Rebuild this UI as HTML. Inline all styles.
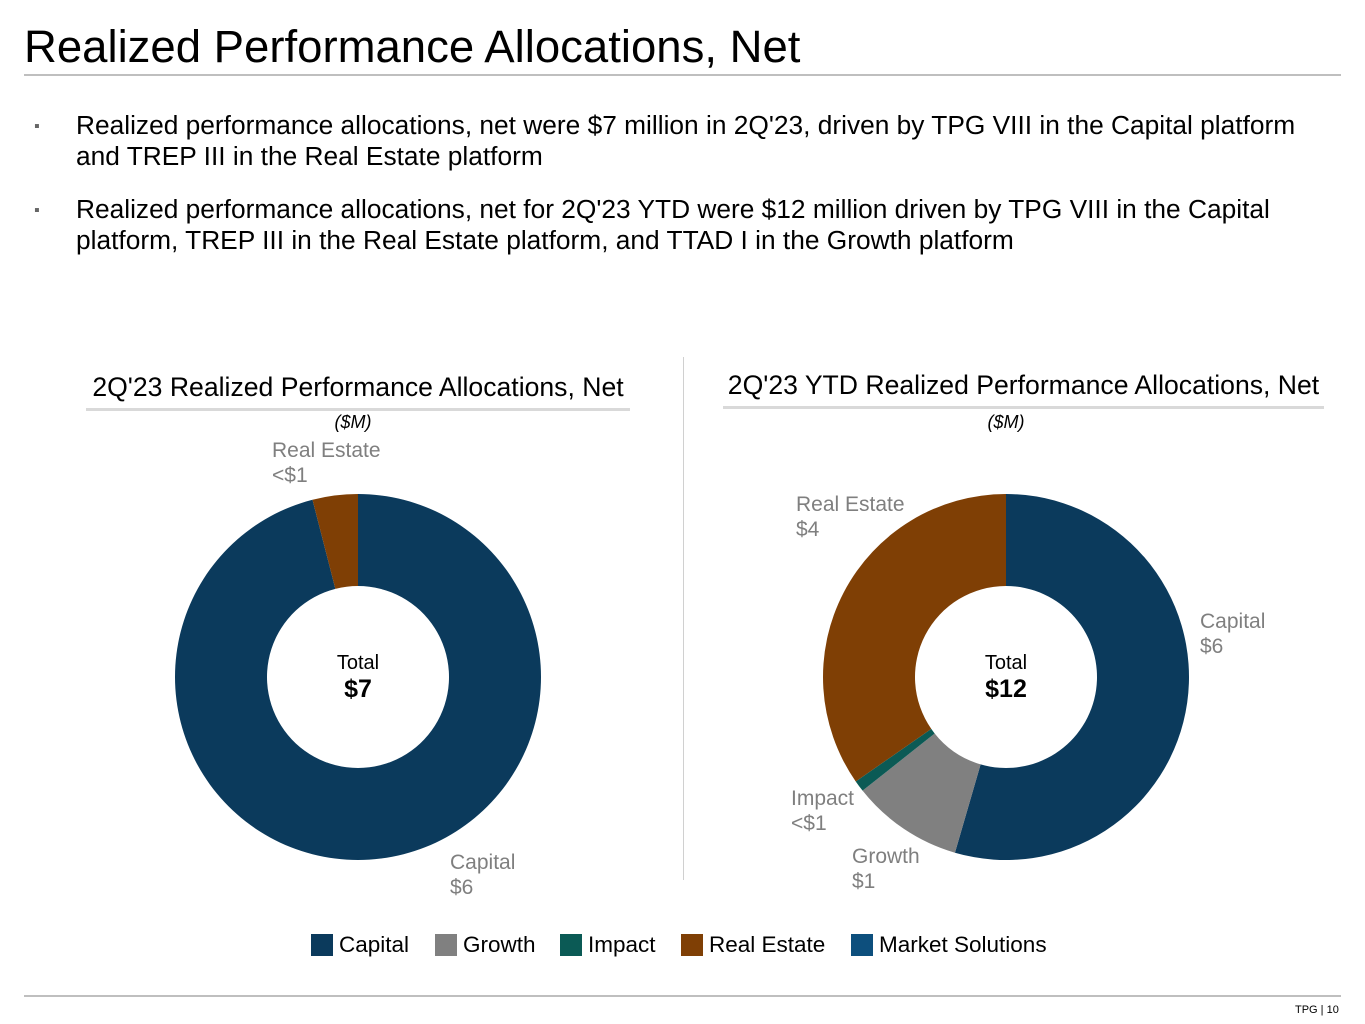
<!DOCTYPE html>
<html><head><meta charset="utf-8">
<style>
body{margin:0;width:1365px;height:1024px;background:#fff;font-family:"Liberation Sans",Arial,sans-serif;position:relative;overflow:hidden;color:#000}
.abs{position:absolute}
</style></head><body>
<div class="abs" style="left:24px;top:21px;font-size:45.5px;line-height:52px">Realized Performance Allocations, Net</div>
<div class="abs" style="left:24px;top:74px;width:1317px;height:2px;background:#bfbfbf"></div>
<div class="abs" style="left:34px;top:110px;width:1292px;font-size:26.3px;line-height:31px"><span style="position:absolute;left:0;top:1px;font-size:16px;color:#666">▪</span><div style="margin-left:42px">Realized performance allocations, net were $7 million in 2Q'23, driven by TPG VIII in the Capital platform and TREP III in the Real Estate platform</div></div>
<div class="abs" style="left:34px;top:194px;width:1292px;font-size:26.3px;line-height:31px"><span style="position:absolute;left:0;top:1px;font-size:16px;color:#666">▪</span><div style="margin-left:42px">Realized performance allocations, net for 2Q'23 YTD were $12 million driven by TPG VIII in the Capital platform, TREP III in the Real Estate platform, and TTAD I in the Growth platform</div></div>
<div class="abs" style="left:683px;top:357px;width:1px;height:523px;background:#d0d0d0"></div>
<div class="abs" style="left:24px;top:995px;width:1317px;height:2px;background:#bfbfbf"></div>
<div class="abs" style="left:1295px;top:1004px;font-size:11px">TPG | 10</div>
<svg class="abs" style="left:0;top:0" width="1365" height="1024" id="chart"></svg>
<script>
const categories=["Capital","Growth","Impact","Real Estate","Market Solutions"];
const colors=["#0b3a5c","#808080","#0b5a55","#7f3f05","#0d4f7d"];
const qValues=[6.72,0,0,0.28,0];
const ytdValues=[6.54,1.18,0.12,4.16,0];
const qTotal="$7", ytdTotal="$12";
const NS="http://www.w3.org/2000/svg";
const svg=document.getElementById('chart');
function el(t,a,txt){const e=document.createElementNS(NS,t);for(const k in a)e.setAttribute(k,a[k]);if(txt!==undefined)e.textContent=txt;svg.appendChild(e);return e;}
function pt(cx,cy,r,f){const a=f*2*Math.PI;return [cx+r*Math.sin(a),cy-r*Math.cos(a)];}
function donut(cx,cy,R,r,vals,total,prefix){
 const sum=vals.reduce((a,b)=>a+b,0);let acc=0;
 vals.forEach((v,i)=>{if(v<=0)return;const f0=acc/sum,f1=(acc+v)/sum;acc+=v;
  const [x0,y0]=pt(cx,cy,R,f0),[x1,y1]=pt(cx,cy,R,f1),[x2,y2]=pt(cx,cy,r,f1),[x3,y3]=pt(cx,cy,r,f0);
  const lg=(f1-f0)>0.5?1:0;
  const p=el('path',{d:`M${x0},${y0}A${R},${R} 0 ${lg} 1 ${x1},${y1}L${x2},${y2}A${r},${r} 0 ${lg} 0 ${x3},${y3}Z`,fill:colors[i]});
  
  
 });
 const t1=el('text',{x:cx,y:cy-8,'text-anchor':'middle','font-size':20},'Total');
 
 const t2=el('text',{x:cx,y:cy+20,'text-anchor':'middle','font-size':25,'font-weight':'bold'},total);
 
}
function title(x,w,y,txt,name){
 const t=el('text',{x:x+w/2,y:y,'text-anchor':'middle','font-size':26.6},txt);
 
 const l=el('rect',{x:x,y:y+12,width:w,height:3,fill:'#d9d9d9'});
 
}
function label(x,y,a,b,name){
 const t=el('text',{x:x,y:y,'font-size':21,fill:'#7f7f7f'},a);
 
 const t2=el('text',{x:x,y:y+25,'font-size':21,fill:'#7f7f7f'},b);
 
}
title(86,544,396,"2Q'23 Realized Performance Allocations, Net","left-chart-title");
title(723,601,394,"2Q'23 YTD Realized Performance Allocations, Net","right-chart-title");
let u=el('text',{x:353,y:428,'text-anchor':'middle','font-size':18,'font-style':'italic'},'($M)');

u=el('text',{x:1006,y:428,'text-anchor':'middle','font-size':18,'font-style':'italic'},'($M)');

donut(358,677,183,91,qValues,qTotal,'left');
donut(1006,677,183,91,ytdValues,ytdTotal,'right');
label(272,457,'Real Estate','<$1','left-label-real-estate');
label(450,869,'Capital','$6','left-label-capital');
label(796,511,'Real Estate','$4','right-label-real-estate');
label(1200,628,'Capital','$6','right-label-capital');
label(791,805,'Impact','<$1','right-label-impact');
label(852,863,'Growth','$1','right-label-growth');
const lx=[311,435,560,681,851];
categories.forEach((c,i)=>{
 const r=el('rect',{x:lx[i],y:934,width:22,height:22,fill:colors[i]});
 
 const t=el('text',{x:lx[i]+28,y:952,'font-size':22.5},c);
 
});
</script>
</body></html>
